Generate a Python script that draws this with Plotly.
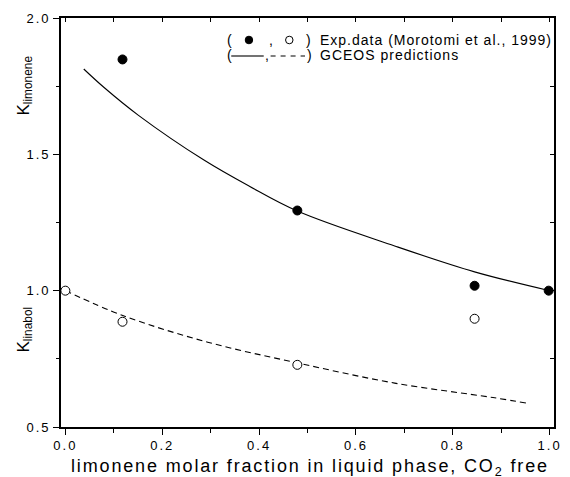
import plotly.graph_objects as go

# experimental data (Morotomi et al., 1999)
lim_x = [0.118, 0.479, 0.845, 0.998]
lim_y = [1.848, 1.294, 1.018, 1.000]
lin_x = [0.0, 0.118, 0.479, 0.845]
lin_y = [1.000, 0.886, 0.728, 0.897]

# GCEOS predictions
gc_lim_x = [0.038, 0.08, 0.151, 0.287, 0.38, 0.479, 0.68, 0.845, 1.0]
gc_lim_y = [1.813, 1.745, 1.643, 1.478, 1.383, 1.292, 1.164, 1.069, 1.0]
gc_lin_x = [0.0, 0.12, 0.294, 0.479, 0.68, 0.883, 0.958]
gc_lin_y = [1.0, 0.908, 0.811, 0.735, 0.661, 0.608, 0.586]

x_ticks = [0.0, 0.2, 0.4, 0.6, 0.8, 1.0]
x_tick_labels = ["0.0", "0.2", "0.4", "0.6", "0.8", "1.0"]
y_ticks = [0.5, 1.0, 1.5, 2.0]
y_tick_labels = ["0.5", "1.0", "1.5", "2.0"]

FONT = "Liberation Sans, Arial, sans-serif"

# plot area in pixels (used to place the legend block)
L, R, T, B = 61, 562, 18, 427


def px(x):
    return (x - L) / (R - L)


def py(y):
    return (B - y) / (B - T)


def sp(t, ls):
    return '<span style="letter-spacing:%spx">%s</span>' % (ls, t)


fig = go.Figure()
fig.add_trace(go.Scatter(x=gc_lim_x, y=gc_lim_y, mode="lines",
                         line=dict(color="black", width=1.1, shape="spline")))
fig.add_trace(go.Scatter(x=gc_lin_x, y=gc_lin_y, mode="lines",
                         line=dict(color="black", width=1.1, dash="6px,4px", shape="spline")))
fig.add_trace(go.Scatter(x=lim_x, y=lim_y, mode="markers",
                         marker=dict(color="black", size=9, line=dict(color="black", width=1))))
fig.add_trace(go.Scatter(x=lin_x, y=lin_y, mode="markers",
                         marker=dict(color="white", size=9, line=dict(color="black", width=1))))
# helper axes carrying the inward ticks on top / right
fig.add_trace(go.Scatter(x=[None], y=[None], xaxis="x2", yaxis="y2"))

minor_tick = dict(ticks="outside", tickwidth=1.2, tickcolor="black", showgrid=False)

fig.update_layout(
    width=570, height=477,
    margin=dict(l=L, r=570 - R, t=T, b=477 - B),
    plot_bgcolor="white", paper_bgcolor="white",
    showlegend=False,
    font=dict(family=FONT, color="black", size=13),
    xaxis=dict(range=[-0.009, 1.009], tickvals=x_ticks,
               ticktext=[sp(t, 2) for t in x_tick_labels],
               ticks="outside", ticklen=6, tickwidth=1.2, tickcolor="black",
               tickfont=dict(size=13),
               showline=True, linecolor="black", linewidth=1.6, mirror=True,
               showgrid=False, zeroline=False,
               minor=dict(dtick=0.1, ticklen=4, **minor_tick)),
    yaxis=dict(range=[0.5, 2.0], tickvals=y_ticks,
               ticktext=[sp(t, 2) for t in y_tick_labels],
               ticks="outside", ticklen=6, tickwidth=1.2, tickcolor="black",
               tickfont=dict(size=13),
               showline=True, linecolor="black", linewidth=1.6, mirror=True,
               showgrid=False, zeroline=False,
               minor=dict(dtick=0.25, ticklen=3, **minor_tick)),
    xaxis2=dict(overlaying="x", side="top", range=[-0.009, 1.009], dtick=0.1, tick0=0,
                ticks="inside", ticklen=4, tickwidth=1.2, tickcolor="black",
                showticklabels=False, showline=False, showgrid=False, zeroline=False),
    yaxis2=dict(overlaying="y", side="right", range=[0.5, 2.0], dtick=0.25, tick0=0.5,
                ticks="inside", ticklen=4, tickwidth=1.2, tickcolor="black",
                showticklabels=False, showline=False, showgrid=False, zeroline=False),
)

y1, y2 = 40, 55
ann = [
    dict(text=sp("limonene molar fraction in liquid phase, CO<sub>2</sub> free", 1.85),
         x=0.505, y=-0.100, xref="paper", yref="paper", xanchor="center", yanchor="middle",
         showarrow=False, font=dict(size=18)),
    dict(text="K<sub>limonene</sub>", textangle=-90, x=px(24), y=py(86),
         xref="paper", yref="paper", xanchor="center", yanchor="middle",
         showarrow=False, font=dict(size=17)),
    dict(text="K<sub>linabol</sub>", textangle=-90, x=px(24), y=py(330),
         xref="paper", yref="paper", xanchor="center", yanchor="middle",
         showarrow=False, font=dict(size=17)),
    dict(text="(", x=px(228), y=py(y1), xanchor="left"),
    dict(text=",", x=px(274), y=py(y1), xanchor="center"),
    dict(text=")", x=px(313), y=py(y1), xanchor="center"),
    dict(text=sp("Exp.data (Morotomi et al., 1999)", 1.0), x=px(322), y=py(y1), xanchor="left"),
    dict(text="(", x=px(228), y=py(y2), xanchor="left"),
    dict(text=",", x=px(270), y=py(y2), xanchor="center"),
    dict(text=")", x=px(314), y=py(y2), xanchor="center"),
    dict(text=sp("GCEOS predictions", 1.0), x=px(322), y=py(y2), xanchor="left"),
]
for a in ann[3:]:
    a.update(xref="paper", yref="paper", yanchor="middle", showarrow=False,
             font=dict(size=14, color="black"))
fig.update_layout(annotations=ann)

# legend sample glyphs
r = 3.8
fig.add_shape(type="circle", xref="paper", yref="paper",
              x0=px(252 - r), x1=px(252 + r), y0=py(y1 + r), y1=py(y1 - r),
              fillcolor="black", line=dict(color="black", width=1))
fig.add_shape(type="circle", xref="paper", yref="paper",
              x0=px(293 - r), x1=px(293 + r), y0=py(y1 + r), y1=py(y1 - r),
              fillcolor="white", line=dict(color="black", width=1))
fig.add_shape(type="line", xref="paper", yref="paper",
              x0=px(234), x1=px(267), y0=py(y2 + 1), y1=py(y2 + 1),
              line=dict(color="#444444", width=1.3))
fig.add_shape(type="line", xref="paper", yref="paper",
              x0=px(274), x1=px(309), y0=py(y2 + 1), y1=py(y2 + 1),
              line=dict(color="black", width=1.2, dash="5px,5px"))

fig.write_html("out.html")
